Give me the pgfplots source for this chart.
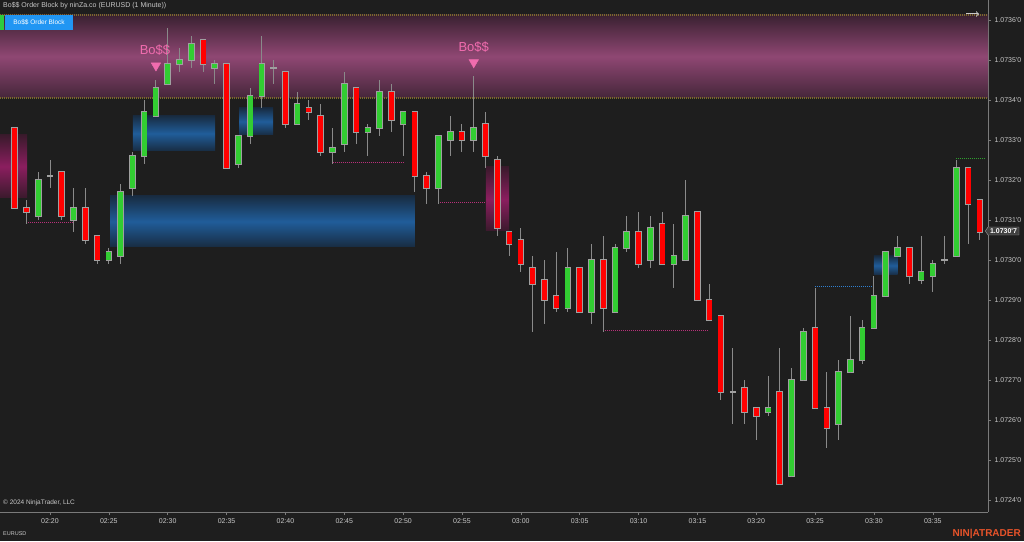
\documentclass[border=0pt]{standalone}
\usepackage{pgfplots}
\pgfplotsset{compat=1.18}
\usepackage{pgfplotstable}
\usepackage{fontspec}
\setmainfont{Liberation Sans}
\usetikzlibrary{shapes.symbols}
\definecolor{bg}{HTML}{1E1E1E}
\definecolor{axisgray}{HTML}{7A7A7A}
\definecolor{labgray}{HTML}{C8C8C8}
\definecolor{wick}{HTML}{8A8A8A}
\definecolor{outl}{HTML}{A0A0A0}
\definecolor{cgreen}{HTML}{32CD32}
\definecolor{cred}{HTML}{FF0000}
\definecolor{pinkA}{HTML}{3A2131}
\definecolor{pinkB}{HTML}{8F4773}
\definecolor{pinkC}{HTML}{45263A}
\definecolor{blueA}{HTML}{182C42}
\definecolor{blueB}{HTML}{205D9A}
\definecolor{magA}{HTML}{3A1A2C}
\definecolor{magB}{HTML}{8B1E5F}
\definecolor{gold}{HTML}{7A6A2C}
\definecolor{dotpink}{HTML}{B8307A}
\definecolor{dotblue}{HTML}{2F7FD0}
\definecolor{dotgreen}{HTML}{2EA02E}
\definecolor{bosspink}{HTML}{F06CAE}
\definecolor{btnblue}{HTML}{2196F3}
\definecolor{btngreen}{HTML}{2ECC40}
\definecolor{ninja}{HTML}{E8532A}
\definecolor{lblborder}{HTML}{969696}
\definecolor{lblfill}{HTML}{404040}

\pgfplotsset{nomark/.style={only marks, mark size=0pt, mark options={draw=none, fill=none}, forget plot}}

% t = minutes after 02:20, prices in pipettes above 1.07000
\pgfplotstableread{
t o h l c
-1 311 322 310 320
2 310 318 307 313
5 300 303 299 302
6 301 319 299 317
7 318 327 316 326
8 326 340 324 337
9 336 345 336 343
10 344 358 344 349
11 349 353 347 350
12 350 356 348 354
14 348 350 344 349
16 324 331 323 331
17 331 343 329 341
18 341 356 338 349
21 334 342 334 339
24 327 333 324 328
25 329 347 327 344
27 332 334 326 333
28 333 345 331 342
30 334 337 326 337
33 318 331 314 331
34 330 336 326 332
36 330 346 327 333
44 288 303 287 298
46 287 304 284 300
48 287 304 287 303
49 303 311 302 307
51 300 311 298 308
53 299 309 293 301
54 300 320 300 311
61 262 271 261 263
63 246 273 246 270
64 270 283 270 282
67 259 275 255 272
68 272 286 272 275
69 275 285 274 283
70 283 296 283 291
71 291 302 291 302
72 301 306 301 303
74 295 306 294 297
75 296 300 292 299
77 301 325 301 323
}\greens

\pgfplotstableread{
t o h l c
-3 333 333 313 313
-2 313 315 309 312
1 322 322 310 311
3 313 318 304 305
4 306 306 299 300
13 355 355 347 349
15 349 349 323 323
20 347 347 333 334
22 338 340 335 337
23 336 339 326 327
26 343 343 329 332
29 342 344 332 335
31 337 337 317 321
32 321 322 314 318
35 332 334 327 330
37 334 337 323 326
38 325 326 306 308
39 307 307 301 304
40 305 308 297 299
41 298 301 282 294
42 295 300 284 290
43 291 302 287 288
45 298 298 287 287
47 300 306 282 288
50 307 312 298 299
52 309 312 299 299
55 312 312 290 290
56 290 294 285 285
57 286 286 265 267
59 268 270 259 262
60 263 263 255 261
62 267 278 244 244
65 283 293 263 263
66 263 272 253 258
73 303 303 294 296
78 323 323 304 314
79 315 315 305 307
}\reds

\pgfplotstableread{
t v h l
0 321 325 318
19 348 350 344
58 267 278 259
76 300 306 299
}\dojis

\begin{document}
\begin{tikzpicture}[x=1pt,y=1pt]
\path[use as bounding box] (0,0) rectangle (1024,541);
\fill[bg] (0,0) rectangle (1024,541);
\begin{axis}[
  at={(0pt,29pt)}, anchor=south west,
  scale only axis, width=988pt, height=499pt,
  xmin=-4.248, xmax=79.69, ymin=237, ymax=361.75,
  axis x line*=bottom, axis y line*=right,
  axis line style={draw=axisgray, line width=0.8pt},
  tick align=outside, major tick length=3pt,
  tick style={draw=axisgray, line width=0.6pt},
  xtick={0,5,...,75},
  xticklabels={02:20,02:25,02:30,02:35,02:40,02:45,02:50,02:55,03:00,03:05,03:10,03:15,03:20,03:25,03:30,03:35},
  ytick={240,250,...,360},
  yticklabels={1.0724\textquotesingle 0,1.0725\textquotesingle 0,1.0726\textquotesingle 0,1.0727\textquotesingle 0,1.0728\textquotesingle 0,1.0729\textquotesingle 0,1.0730\textquotesingle 0,1.0731\textquotesingle 0,1.0732\textquotesingle 0,1.0733\textquotesingle 0,1.0734\textquotesingle 0,1.0735\textquotesingle 0,1.0736\textquotesingle 0},
  ticklabel style={font=\fontsize{7}{8}\selectfont, text=labgray},
]
% zones
\addplot[draw=none, top color=pinkA, bottom color=pinkC, middle color=pinkB, forget plot]
  coordinates {(-4.248,340.5) (79.69,340.5) (79.69,361.25) (-4.248,361.25)} -- cycle;
\addplot[draw=none, top color=blueA, bottom color=blueA, middle color=blueB, forget plot]
  coordinates {(7.05,327.25) (14.02,327.25) (14.02,336) (7.05,336)} -- cycle;
\addplot[draw=none, top color=blueA, bottom color=blueA, middle color=blueB, forget plot]
  coordinates {(16.06,331.25) (18.95,331.25) (18.95,338) (16.06,338)} -- cycle;
\addplot[draw=none, top color=blueA, bottom color=blueA, middle color=blueB, forget plot]
  coordinates {(5.1,303.25) (31.0,303.25) (31.0,316) (5.1,316)} -- cycle;
\addplot[draw=none, top color=blueA, bottom color=blueA, middle color=blueB, forget plot]
  coordinates {(70,296.25) (72,296.25) (72,301) (70,301)} -- cycle;
\addplot[draw=none, top color=magA, bottom color=magA, middle color=magB, forget plot]
  coordinates {(-4.248,315.5) (-1.95,315.5) (-1.95,331.25) (-4.248,331.25)} -- cycle;
\addplot[draw=none, top color=magA, bottom color=magA, middle color=magB, forget plot]
  coordinates {(37.04,307.25) (39.0,307.25) (39.0,323.25) (37.04,323.25)} -- cycle;
% zone edges
\addplot[gold, dash pattern=on 1pt off 1pt, line width=1.1pt, forget plot] coordinates {(-4.248,361.25) (79.69,361.25)};
\addplot[gold, dash pattern=on 1pt off 1pt, line width=1.1pt, forget plot] coordinates {(-4.248,340.5) (79.69,340.5)};
% dotted levels
\addplot[dotpink, dash pattern=on 1pt off 1pt, line width=1pt, forget plot] coordinates {(-2,309.25) (1.95,309.25)};
\addplot[dotpink, dash pattern=on 1pt off 1pt, line width=1pt, forget plot] coordinates {(24,324.25) (30,324.25)};
\addplot[dotpink, dash pattern=on 1pt off 1pt, line width=1pt, forget plot] coordinates {(33,314.25) (37.04,314.25)};
\addplot[dotpink, dash pattern=on 1pt off 1pt, line width=1pt, forget plot] coordinates {(47,282.25) (56,282.25)};
\addplot[dotblue, dash pattern=on 1pt off 1pt, line width=1pt, forget plot] coordinates {(65,293.25) (70,293.25)};
\addplot[dotgreen, dash pattern=on 1pt off 1pt, line width=1pt, forget plot] coordinates {(77,325.25) (79.4,325.25)};
% wicks
\addplot[nomark, error bars/.cd, y dir=plus, y explicit, error mark=none,
  error bar style={draw=wick, line width=1pt}]
  table[x=t, y=l, y error expr=\thisrow{h}-\thisrow{l}] {\greens};
\addplot[nomark, error bars/.cd, y dir=plus, y explicit, error mark=none,
  error bar style={draw=wick, line width=1pt}]
  table[x=t, y=l, y error expr=\thisrow{h}-\thisrow{l}] {\reds};
\addplot[nomark, error bars/.cd, y dir=plus, y explicit, error mark=none,
  error bar style={draw=wick, line width=1pt}]
  table[x=t, y=l, y error expr=\thisrow{h}-\thisrow{l}] {\dojis};
% doji bodies
\addplot[nomark, error bars/.cd, x dir=both, x explicit, error mark=none,
  error bar style={draw=outl, line width=1.2pt}]
  table[x=t, y=v, x error expr=0.27] {\dojis};
% green bodies
\addplot[nomark, error bars/.cd, y dir=plus, y explicit, error mark=none,
  error bar style={draw=outl, line width=6.6pt, shorten <=-0.7pt, shorten >=-0.7pt}]
  table[x=t, y=o, y error expr=\thisrow{c}-\thisrow{o}] {\greens};
\addplot[nomark, error bars/.cd, y dir=plus, y explicit, error mark=none,
  error bar style={draw=cgreen, line width=5pt}]
  table[x=t, y=o, y error expr=\thisrow{c}-\thisrow{o}] {\greens};
% red bodies
\addplot[nomark, error bars/.cd, y dir=plus, y explicit, error mark=none,
  error bar style={draw=outl, line width=6.6pt, shorten <=-0.7pt, shorten >=-0.7pt}]
  table[x=t, y=c, y error expr=\thisrow{o}-\thisrow{c}] {\reds};
\addplot[nomark, error bars/.cd, y dir=plus, y explicit, error mark=none,
  error bar style={draw=cred, line width=5pt}]
  table[x=t, y=c, y error expr=\thisrow{o}-\thisrow{c}] {\reds};
% Bo$$ signals
\addplot[only marks, mark=triangle*, mark size=5.5pt, mark options={rotate=180, fill=bosspink, draw=bosspink}, forget plot]
  coordinates {(9,348.6) (36,349.4)};
\node[text=bosspink, font=\fontsize{13}{14}\selectfont] at (axis cs:8.92,352.5) {Bo\$\$};
\node[text=bosspink, font=\fontsize{13}{14}\selectfont] at (axis cs:36.0,353.25) {Bo\$\$};
\end{axis}
% decorations
\draw[axisgray, line width=0.8pt] (988,527) -- (988,541);
\draw[-to, labgray, line width=1pt] (966,527) -- (979,527);
\node[anchor=west, text=labgray, font=\fontsize{7}{8}\selectfont, inner sep=0pt] at (3,535) {Bo\$\$ Order Block by ninZa.co (EURUSD (1 Minute))};
\fill[btngreen] (0,511) rectangle (4,526);
\fill[btnblue] (5,511) rectangle (73,526);
\node[text=white, font=\fontsize{6.5}{7}\selectfont, inner sep=0pt] at (39,518.5) {Bo\$\$ Order Block};
\node[anchor=west, text=labgray, font=\fontsize{6.5}{7}\selectfont, inner sep=0pt] at (3,38) {\textcopyright{} 2024 NinjaTrader, LLC};
\node[anchor=west, text=labgray, font=\fontsize{5.5}{6}\selectfont, inner sep=0pt] at (3,7) {EURUSD};
\node[anchor=east, text=ninja, font=\bfseries\fontsize{10}{11}\selectfont, inner sep=0pt] at (1021,7) {NIN|ATRADER};
\node[signal, signal to=west, signal pointer angle=110, draw=lblborder, fill=lblfill,
  text=white, font=\bfseries\fontsize{7}{8}\selectfont, inner xsep=2pt, inner ysep=1.5pt, anchor=west] at (985,310) {1.0730\textquotesingle 7};
\end{tikzpicture}
\end{document}
